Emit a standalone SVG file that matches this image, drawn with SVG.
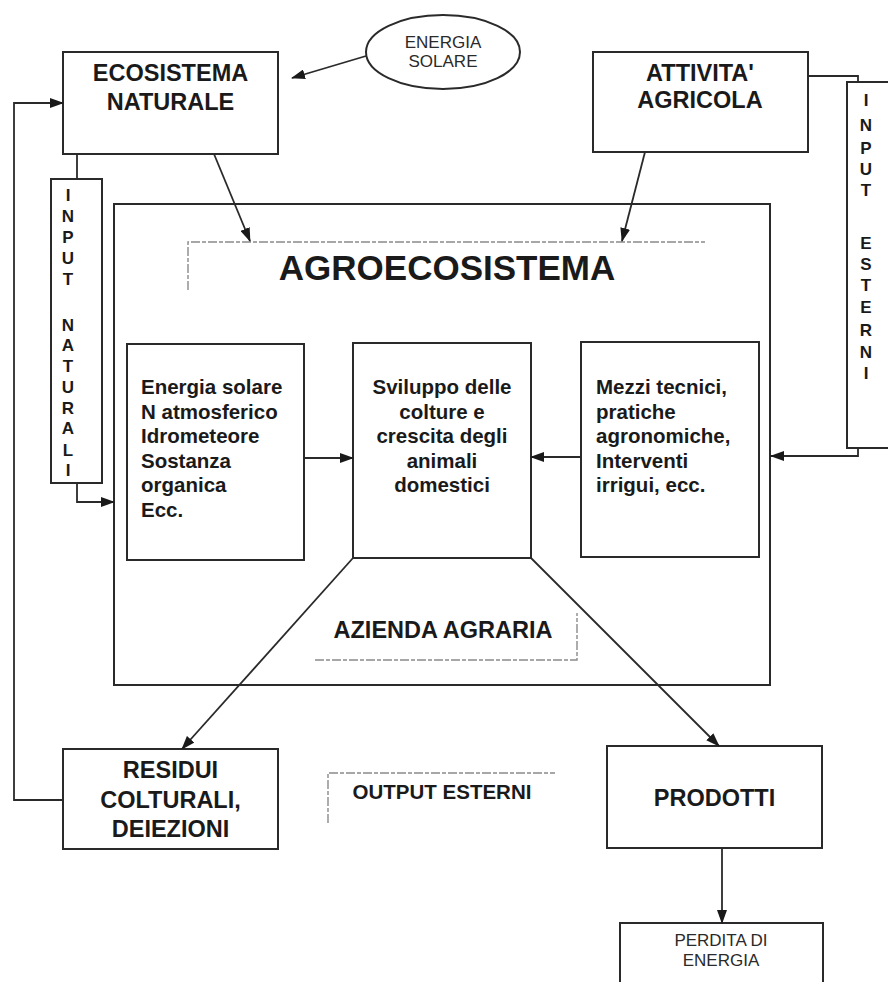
<svg xmlns="http://www.w3.org/2000/svg" width="888" height="982" viewBox="0 0 888 982">
<style>
.box{fill:none;stroke:#2a2a2a;stroke-width:2}
.ln{fill:none;stroke:#2a2a2a;stroke-width:1.8}
.dash{fill:none;stroke:#8a8a8a;stroke-width:1.4;stroke-dasharray:9 2 4 2}
.t{font-family:"Liberation Sans",Arial,sans-serif;font-weight:bold;fill:#1a1a1a}
.big{font-size:23.5px;text-anchor:middle}
.body{font-size:20.5px}
.vl{font-size:17px;text-anchor:middle}
.reg{font-family:"Liberation Sans",Arial,sans-serif;font-weight:normal;fill:#2a2a2a;font-size:17px;text-anchor:middle}
</style>
<defs>
<marker id="ah" markerUnits="userSpaceOnUse" markerWidth="14" markerHeight="10" refX="13" refY="5" orient="auto">
<path d="M0,0 L14,5 L0,10 Z" fill="#1a1a1a"/>
</marker>
</defs>
<rect width="888" height="982" fill="#fff"/>

<g id="energia-solare">
<ellipse cx="443" cy="52" rx="77" ry="37" class="box" stroke-width="1.6"/>
<text class="reg" x="443" y="48" font-size="16.5">ENERGIA</text>
<text class="reg" x="443" y="67" font-size="16.5">SOLARE</text>
</g>

<g id="ecosistema-naturale">
<rect x="63" y="52" width="215" height="102" class="box"/>
<text class="t big" x="170.5" y="81">ECOSISTEMA</text>
<text class="t big" x="170.5" y="110">NATURALE</text>
</g>

<g id="attivita-agricola">
<rect x="593" y="52" width="215" height="100" class="box"/>
<text class="t big" x="700" y="81">ATTIVITA'</text>
<text class="t big" x="700" y="108">AGRICOLA</text>
</g>

<g id="input-naturali">
<rect x="51" y="179" width="51" height="304" class="box" stroke-width="1.6"/>
<g class="t vl">
<text x="68" y="201">I</text>
<text x="68" y="222">N</text>
<text x="68" y="243">P</text>
<text x="68" y="264">U</text>
<text x="68" y="285">T</text>
<text x="68" y="331">N</text>
<text x="68" y="351">A</text>
<text x="68" y="372">T</text>
<text x="68" y="393">U</text>
<text x="68" y="414">R</text>
<text x="68" y="434">A</text>
<text x="68" y="456">L</text>
<text x="68" y="476">I</text>
</g>
</g>

<g id="input-esterni">
<path d="M895,82 H847 V448 H895" class="box" stroke-width="1.6"/>
<g class="t vl">
<text x="866" y="106">I</text>
<text x="866" y="131">N</text>
<text x="866" y="154">P</text>
<text x="866" y="175">U</text>
<text x="866" y="196">T</text>
<text x="866" y="249">E</text>
<text x="866" y="270">S</text>
<text x="866" y="291">T</text>
<text x="866" y="313">E</text>
<text x="866" y="336">R</text>
<text x="866" y="358">N</text>
<text x="866" y="379">I</text>
</g>
</g>

<g id="agroecosistema">
<rect x="114" y="204" width="656" height="481" class="box"/>
<path d="M188,290 V242 H705" class="dash"/>
<text class="t" x="447" y="280" font-size="35" text-anchor="middle">AGROECOSISTEMA</text>
</g>

<g id="input-naturali-box">
<rect x="127" y="344" width="177" height="216" class="box"/>
<g class="t body">
<text x="141" y="394">Energia solare</text>
<text x="141" y="418.5">N atmosferico</text>
<text x="141" y="443">Idrometeore</text>
<text x="141" y="467.5">Sostanza</text>
<text x="141" y="492">organica</text>
<text x="141" y="516.5">Ecc.</text>
</g>
</g>

<g id="sviluppo">
<rect x="353" y="343" width="178" height="215" class="box"/>
<g class="t body" text-anchor="middle">
<text x="442" y="394">Sviluppo delle</text>
<text x="442" y="418.5">colture e</text>
<text x="442" y="443">crescita degli</text>
<text x="442" y="467.5">animali</text>
<text x="442" y="492">domestici</text>
</g>
</g>

<g id="mezzi-tecnici">
<rect x="581" y="342" width="178" height="215" class="box"/>
<g class="t body">
<text x="596" y="394">Mezzi tecnici,</text>
<text x="596" y="418.5">pratiche</text>
<text x="596" y="443">agronomiche,</text>
<text x="596" y="467.5">Interventi</text>
<text x="596" y="492">irrigui, ecc.</text>
</g>
</g>

<g id="azienda-agraria">
<text class="t" x="443" y="638" font-size="23.5" text-anchor="middle">AZIENDA AGRARIA</text>
<path d="M315,660 H577 V613" class="dash"/>
</g>

<g id="output-esterni">
<path d="M328,823 V773 H555" class="dash"/>
<text class="t" x="442" y="799" font-size="20.5" text-anchor="middle">OUTPUT ESTERNI</text>
</g>

<g id="residui">
<rect x="63" y="749" width="215" height="100" class="box"/>
<text class="t big" x="170.5" y="778">RESIDUI</text>
<text class="t big" x="170.5" y="808">COLTURALI,</text>
<text class="t big" x="170.5" y="837">DEIEZIONI</text>
</g>

<g id="prodotti">
<rect x="607" y="746" width="215" height="102" class="box"/>
<text class="t big" x="714.5" y="806">PRODOTTI</text>
</g>

<g id="perdita-energia">
<path d="M620,990 V923 H823 V990" class="box"/>
<text class="reg" x="721" y="946">PERDITA DI</text>
<text class="reg" x="721" y="966">ENERGIA</text>
</g>

<g id="connectors">
<line x1="366" y1="56" x2="292" y2="78" class="ln" marker-end="url(#ah)"/>
<line x1="214" y1="154" x2="250" y2="241" class="ln" marker-end="url(#ah)"/>
<line x1="645" y1="152" x2="622" y2="241" class="ln" marker-end="url(#ah)"/>
<path d="M63,800 H14 V103 H63" class="ln" marker-end="url(#ah)"/>
<line x1="77" y1="154" x2="77" y2="179" class="ln"/>
<path d="M77,483 V502 H114" class="ln" marker-end="url(#ah)"/>
<path d="M808,76 H858 V82" class="ln"/>
<path d="M858,448 V456 H771" class="ln" marker-end="url(#ah)"/>
<line x1="304" y1="458" x2="353" y2="458" class="ln" marker-end="url(#ah)"/>
<line x1="581" y1="457" x2="531" y2="457" class="ln" marker-end="url(#ah)"/>
<line x1="353" y1="558" x2="182" y2="749" class="ln" marker-end="url(#ah)"/>
<line x1="531" y1="558" x2="719" y2="746" class="ln" marker-end="url(#ah)"/>
<line x1="722" y1="848" x2="722" y2="923" class="ln" marker-end="url(#ah)"/>
</g>
</svg>
